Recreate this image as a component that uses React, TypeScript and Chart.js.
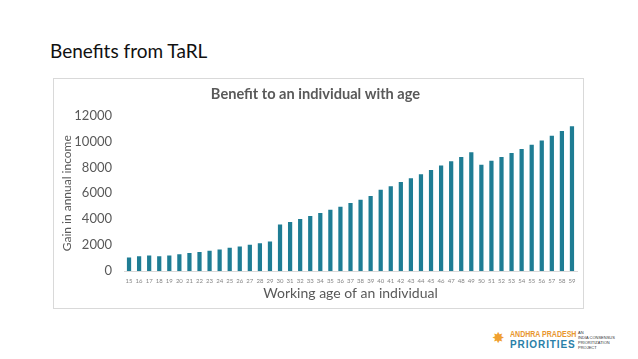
import React, { useEffect, useRef } from "react";
import { Chart, registerables } from "chart.js";

Chart.register(...registerables);

const ages: string[] = [
  "15", "16", "17", "18", "19", "20", "21", "22", "23", "24", "25", "26", "27", "28", "29",
  "30", "31", "32", "33", "34", "35", "36", "37", "38", "39", "40", "41", "42", "43", "44",
  "45", "46", "47", "48", "49", "50", "51", "52", "53", "54", "55", "56", "57", "58", "59",
];

const gains: number[] = [
  1050, 1130, 1200, 1130, 1200, 1300, 1380, 1460, 1560, 1660, 1790, 1890, 2020, 2150, 2280,
  3580, 3790, 4020, 4250, 4480, 4730, 4960, 5250, 5500, 5780, 6270, 6550, 6860, 7160, 7470,
  7800, 8140, 8470, 8800, 9160, 8210, 8500, 8800, 9110, 9420, 9750, 10080, 10440, 10800, 11180,
];

const yTicks: number[] = [0, 2000, 4000, 6000, 8000, 10000, 12000];

const pageTitle = "Benefits from TaRL";
const chartTitle = "Benefit to an individual with age";
const xTitle = "Working age of an individual";
const yTitle = "Gain in annual income";

const FONT = "Lato, 'Open Sans', sans-serif";

export default function App() {
  const canvasRef = useRef<HTMLCanvasElement | null>(null);

  useEffect(() => {
    const canvas = canvasRef.current;
    if (!canvas) return;
    const chart = new Chart(canvas, {
      type: "bar",
      data: {
        labels: ages,
        datasets: [
          {
            label: "Gain",
            data: gains,
            backgroundColor: "#1F7D94",
            borderWidth: 0,
            categoryPercentage: 1,
            barPercentage: 0.42,
          },
        ],
      },
      options: {
        responsive: false,
        animation: false,
        devicePixelRatio: 1,
        layout: { padding: { left: 0, right: 6, top: 0, bottom: 0 } },
        plugins: {
          legend: { display: false },
          tooltip: { enabled: false },
          title: {
            display: true,
            text: chartTitle,
            color: "#595959",
            font: { family: FONT, size: 14.6, weight: "bold" },
            padding: { top: 7, bottom: 12 },
          },
        },
        scales: {
          x: {
            grid: { display: false, drawTicks: false },
            border: { display: true, color: "#D9D9D9" },
            ticks: {
              color: "#858585",
              font: { family: FONT, size: 6 },
              autoSkip: false,
              maxRotation: 0,
              minRotation: 0,
              padding: 6,
            },
            title: {
              display: true,
              text: xTitle,
              color: "#595959",
              font: { family: FONT, size: 14 },
              padding: { top: 2, bottom: 6 },
            },
            afterFit: (scale: any) => {
              scale.height = 37;
            },
          },
          y: {
            min: 0,
            max: 12000,
            grid: { display: false, drawTicks: false },
            border: { display: false },
            afterBuildTicks: (scale: any) => {
              scale.ticks = yTicks.map((v) => ({ value: v }));
            },
            ticks: {
              color: "#595959",
              font: { family: FONT, size: 13 },
              padding: 12,
              callback: (v: any) => String(v),
            },
            title: {
              display: true,
              text: yTitle,
              color: "#595959",
              font: { family: FONT, size: 12 },
              padding: { top: 6, bottom: 0 },
            },
            afterFit: (scale: any) => {
              scale.width = 70;
            },
          },
        },
      },
    });
    return () => chart.destroy();
  }, []);

  return (
    <div style={{ position: "relative", width: 638, height: 359, margin: -8, background: "#fff", overflow: "hidden" }}>
      <div
        style={{
          position: "absolute",
          left: 50,
          top: 39,
          fontFamily: FONT,
          fontSize: 19,
          color: "#111",
          whiteSpace: "nowrap",
        }}
      >
        {pageTitle}
      </div>
      <div
        style={{
          position: "absolute",
          left: 53,
          top: 78,
          width: 529,
          height: 229,
          border: "1px solid #D9D9D9",
        }}
      >
        <canvas ref={canvasRef} width={529} height={229} style={{ display: "block", width: 529, height: 229 }} />
      </div>
      <div style={{ position: "absolute", left: 492, top: 331, color: "#F0A030", fontSize: 15, lineHeight: "15px", fontFamily: "DejaVu Sans" }}>✸</div>
      <div
        style={{
          position: "absolute",
          left: 510,
          top: 329,
          fontFamily: "'Liberation Sans', sans-serif",
          fontWeight: "bold",
          fontSize: 9,
          lineHeight: "10px",
          color: "#E8962E",
          whiteSpace: "nowrap",
          transform: "scaleX(0.78)",
          transformOrigin: "left top",
        }}
      >
        ANDHRA PRADESH
      </div>
      <div
        style={{
          position: "absolute",
          left: 510,
          top: 339,
          fontFamily: "'Liberation Sans', sans-serif",
          fontWeight: "bold",
          fontSize: 10,
          lineHeight: "11px",
          letterSpacing: 0.9,
          color: "#2A7FA8",
          whiteSpace: "nowrap",
        }}
      >
        PRIORITIES
      </div>
      <div
        style={{
          position: "absolute",
          left: 578,
          top: 330,
          fontFamily: "'Liberation Sans', sans-serif",
          fontSize: 4,
          lineHeight: "5px",
          color: "#333",
          whiteSpace: "nowrap",
        }}
      >
        AN
        <br />
        INDIA CONSENSUS
        <br />
        PRIORITIZATION
        <br />
        PROJECT
      </div>
    </div>
  );
}
